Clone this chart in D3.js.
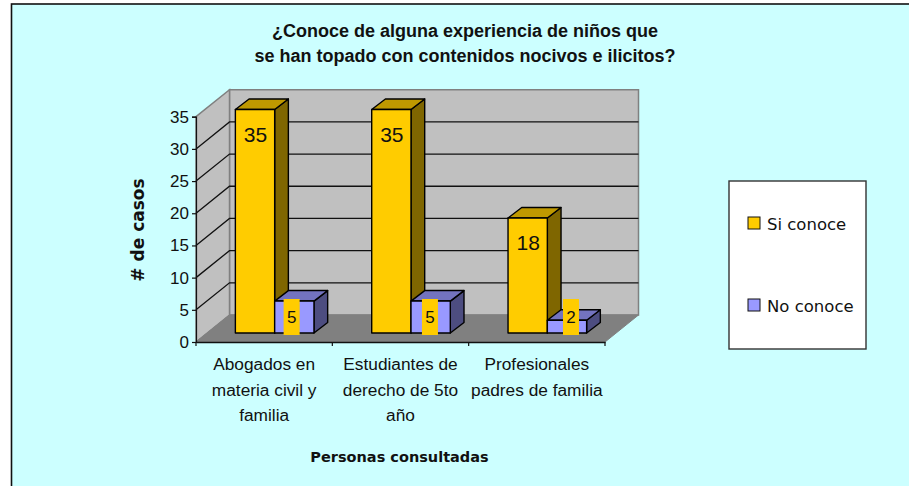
<!DOCTYPE html>
<html>
<head>
<meta charset="utf-8">
<script src="https://cdn.jsdelivr.net/npm/d3@7"></script>
<style>
  html, body { margin: 0; padding: 0; background: #fff; }
  svg { display: block; }
</style>
</head>
<body>
<svg id="chart" width="909" height="486"></svg>
<script>
var categories = ["Abogados en materia civil y familia", "Estudiantes de derecho de 5to año", "Profesionales padres de familia"];
var categoryLines = [["Abogados en", "materia civil y", "familia"], ["Estudiantes de", "derecho de 5to", "año"], ["Profesionales", "padres de familia"]];
var seriesNames = ["Si conoce", "No conoce"];
var siConoce = [35, 35, 18];
var noConoce = [5, 5, 2];
var yTicks = [0, 5, 10, 15, 20, 25, 30, 35];
var titleLines = ["¿Conoce de alguna experiencia de niños que", "se han topado con contenidos nocivos e ilicitos?"];

var svg = d3.select("#chart");
var arial = "'Liberation Sans', Arial, sans-serif";
var comic = "'DejaVu Sans', sans-serif";

// 3d offsets, wall = full depth of the box, bar = depth of one column
var wall = {dx: 33.5, dy: -27};
var barDepth = {dx: 13.7, dy: -10.5};

var yScale = d3.scaleLinear().domain([0, 35]).range([342, 116.7]);
// columns stand a bit behind the front edge of the floor
var yBar = d3.scaleLinear().domain([0, 35]).range([333, 109.5]);
var xScale = d3.scaleBand().domain(categories).range([196, 605]);
var barWidth = 39.3;
var innerPad = (xScale.bandwidth() - 2 * barWidth) / 2 / barWidth;
var xInner = d3.scaleBand().domain(seriesNames).range([10.5, xScale.bandwidth() + 10.5]).paddingInner(0).paddingOuter(innerPad);

function pts(list) {
  return list.map(function(p) { return p[0] + "," + p[1]; }).join(" ");
}

// background and frame
svg.append("rect").attr("width", 909).attr("height", 486).attr("fill", "#fff");
svg.append("rect")
  .attr("x", 11.5).attr("y", 4)
  .attr("width", 905).attr("height", 490)
  .attr("fill", "#ccffff")
  .attr("stroke", "#111").attr("stroke-width", 1.6);

var x0 = xScale.range()[0], x1 = xScale.range()[1];
var y0 = yScale(0), yTop = yScale(35);

// walls and floor
svg.append("polygon")
  .attr("points", pts([[x0 + wall.dx, yTop + wall.dy], [x1 + wall.dx, yTop + wall.dy], [x1 + wall.dx, y0 + wall.dy], [x0 + wall.dx, y0 + wall.dy]]))
  .attr("fill", "#c0c0c0").attr("stroke", "#808080").attr("stroke-width", 1.5);
svg.append("polygon")
  .attr("points", pts([[x0, yTop], [x0 + wall.dx, yTop + wall.dy], [x0 + wall.dx, y0 + wall.dy], [x0, y0]]))
  .attr("fill", "#c0c0c0").attr("stroke", "#808080").attr("stroke-width", 1.5);
svg.append("polygon")
  .attr("points", pts([[x0, y0], [x0 + wall.dx, y0 + wall.dy], [x1 + wall.dx, y0 + wall.dy], [x1, y0]]))
  .attr("fill", "#808080").attr("stroke", "#808080");

// gridlines, skipping 0 which is the floor
var grid = svg.append("g").attr("fill", "none").attr("stroke", "#111").attr("stroke-width", 1.3);
yTicks.filter(function(t) { return t > 0 && t < 35; }).forEach(function(t) {
  grid.append("polyline").attr("points", pts([
    [x0, yScale(t)],
    [x0 + wall.dx, yScale(t) + wall.dy],
    [x1 + wall.dx, yScale(t) + wall.dy]
  ]));
});

// axes
var yAxis = svg.append("g")
  .attr("transform", "translate(" + x0 + ",0)")
  .call(d3.axisLeft(yScale).tickValues(yTicks).tickSize(4).tickPadding(3));
yAxis.selectAll("text").attr("font-family", arial).attr("font-size", 17).attr("fill", "#111");
yAxis.selectAll("path,line").attr("stroke", "#111").attr("stroke-width", 1.2);

var xAxis = svg.append("g")
  .attr("transform", "translate(0," + y0 + ")")
  .call(d3.axisBottom(xScale).tickSize(0).tickFormat(""));
xAxis.selectAll("path").attr("stroke", "#111").attr("stroke-width", 1.4);
xAxis.selectAll(".tick").remove();
var xEdges = categories.map(function(c) { return xScale(c); }).concat([x1]);
xAxis.selectAll("line.edge").data(xEdges).enter().append("line")
  .attr("class", "edge")
  .attr("x1", function(d) { return d; }).attr("x2", function(d) { return d; })
  .attr("y1", 0).attr("y2", 4)
  .attr("stroke", "#111").attr("stroke-width", 1.2);

// bars, one box per value
var colors = {
  "Si conoce": {front: "#ffcc00", top: "#bf9900", side: "#7f6600"},
  "No conoce": {front: "#9999ff", top: "#7373bf", side: "#4d4d80"}
};
var rows = [];
categories.forEach(function(c, i) {
  rows.push({cat: c, i: i, series: "Si conoce", value: siConoce[i]});
  rows.push({cat: c, i: i, series: "No conoce", value: noConoce[i]});
});

var bars = svg.append("g").selectAll("g").data(rows).enter().append("g")
  .attr("stroke", "#000").attr("stroke-width", 1.4).attr("stroke-linejoin", "round");

function box(d) {
  var left = xScale(d.cat) + xInner(d.series);
  var right = left + xInner.bandwidth();
  return {left: left, right: right, top: yBar(d.value), bottom: yBar(0)};
}
bars.append("polygon")
  .attr("fill", function(d) { return colors[d.series].side; })
  .attr("points", function(d) {
    var b = box(d);
    return pts([[b.right, b.top], [b.right + barDepth.dx, b.top + barDepth.dy], [b.right + barDepth.dx, b.bottom + barDepth.dy], [b.right, b.bottom]]);
  });
bars.append("polygon")
  .attr("fill", function(d) { return colors[d.series].top; })
  .attr("points", function(d) {
    var b = box(d);
    return pts([[b.left, b.top], [b.left + barDepth.dx, b.top + barDepth.dy], [b.right + barDepth.dx, b.top + barDepth.dy], [b.right, b.top]]);
  });
bars.append("rect")
  .attr("fill", function(d) { return colors[d.series].front; })
  .attr("x", function(d) { return box(d).left; })
  .attr("y", function(d) { return box(d).top; })
  .attr("width", xInner.bandwidth())
  .attr("height", function(d) { var b = box(d); return b.bottom - b.top; });

// value labels
var labelShift = [-2.7, -0.7, 4];
var labels = svg.append("g").selectAll("g").data(rows).enter().append("g");
labels.filter(function(d) { return d.series == "No conoce"; }).append("rect")
  .attr("x", function(d) { var b = box(d); return (b.left + b.right) / 2 + labelShift[d.i] - 8; })
  .attr("y", function(d) { var b = box(d); return Math.min((b.top + b.bottom) / 2, 317) - 18; })
  .attr("width", 16).attr("height", 36)
  .attr("fill", "#ffcc00");
labels.append("text")
  .attr("text-anchor", "middle")
  .attr("font-family", arial)
  .attr("fill", "#111")
  .attr("font-size", function(d) { return d.series == "Si conoce" ? 21 : 17; })
  .attr("x", function(d) {
    var b = box(d);
    return (b.left + b.right) / 2 + (d.series == "No conoce" ? labelShift[d.i] : 0.5);
  })
  .attr("y", function(d) {
    var b = box(d);
    if (d.series == "Si conoce") return b.top + 32;
    return Math.min((b.top + b.bottom) / 2, 317) + 6;
  })
  .text(function(d) { return d.value; });

// category labels
var catText = svg.append("g").selectAll("text").data(categories).enter().append("text")
  .attr("text-anchor", "middle")
  .attr("font-family", arial).attr("font-size", 17.3).attr("fill", "#111");
catText.each(function(c, i) {
  var cx = xScale(c) + xScale.bandwidth() / 2;
  d3.select(this).selectAll("tspan").data(categoryLines[i]).enter().append("tspan")
    .attr("x", cx)
    .attr("y", function(l, k) { return 370 + k * 25.5; })
    .text(function(l) { return l; });
});

// title
svg.append("g").selectAll("text").data(titleLines).enter().append("text")
  .attr("x", 465)
  .attr("y", function(d, i) { return 36.5 + i * 25.5; })
  .attr("text-anchor", "middle")
  .attr("font-family", arial).attr("font-weight", "bold").attr("font-size", 18).attr("fill", "#111")
  .text(function(d) { return d; });

// axis titles
svg.append("text")
  .attr("x", 399.5).attr("y", 462)
  .attr("text-anchor", "middle")
  .attr("font-family", comic).attr("font-weight", "bold").attr("font-size", 14.5).attr("fill", "#111")
  .text("Personas consultadas");
svg.append("text")
  .attr("transform", "translate(144,230) rotate(-90)")
  .attr("text-anchor", "middle")
  .attr("font-family", comic).attr("font-weight", "bold").attr("font-size", 17).attr("fill", "#111")
  .text("# de casos");

// legend
svg.append("rect")
  .attr("x", 729).attr("y", 181).attr("width", 137).attr("height", 168)
  .attr("fill", "#fff").attr("stroke", "#333").attr("stroke-width", 1.4);
var legendY = d3.scalePoint().domain(seriesNames).range([223, 305]);
var legend = svg.append("g").selectAll("g").data(seriesNames).enter().append("g")
  .attr("transform", function(d) { return "translate(748," + legendY(d) + ")"; });
legend.append("rect")
  .attr("x", 0).attr("y", -6).attr("width", 12).attr("height", 12)
  .attr("fill", function(d) { return colors[d].front; })
  .attr("stroke", "#111").attr("stroke-width", 1);
legend.append("text")
  .attr("x", 19).attr("y", 7)
  .attr("font-family", comic).attr("font-size", 16.5).attr("fill", "#111")
  .text(function(d) { return d; });
</script>
</body>
</html>
